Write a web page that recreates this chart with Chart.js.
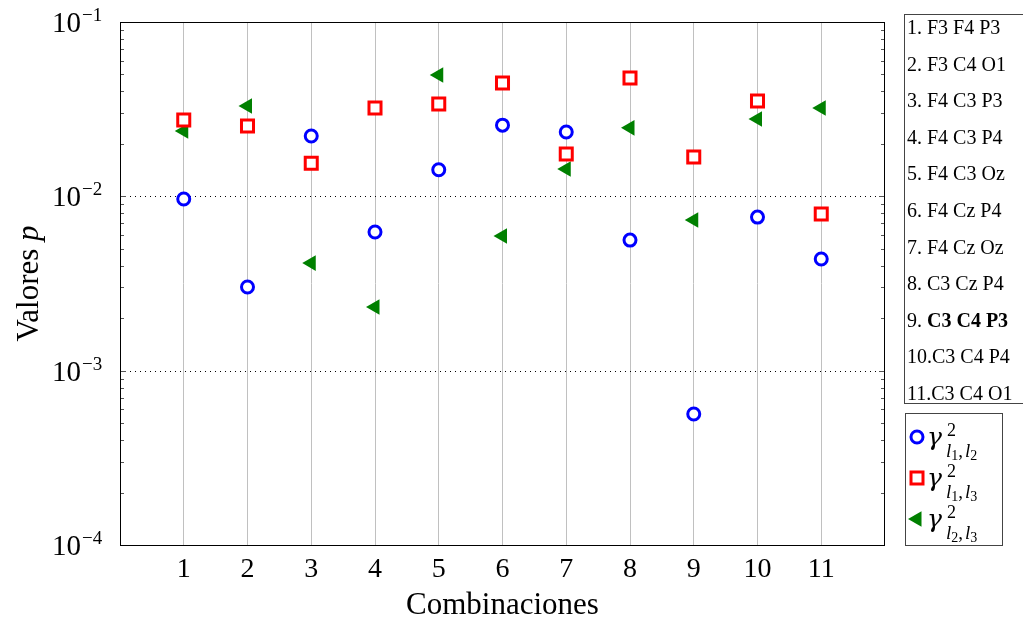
<!DOCTYPE html>
<html>
<head>
<meta charset="utf-8">
<script src="https://cdn.jsdelivr.net/npm/chart.js@4"></script>
<style>
  html, body { margin: 0; padding: 0; background: #fff; }
  #wrap { width: 1023px; height: 628px; }
</style>
</head>
<body>
<div id="wrap"><canvas id="myChart" width="1023" height="628"></canvas></div>
<script>
const categories = [1, 2, 3, 4, 5, 6, 7, 8, 9, 10, 11];
const comboLabels = ['F3 F4 P3', 'F3 C4 O1', 'F4 C3 P3', 'F4 C3 P4', 'F4 C3 Oz', 'F4 Cz P4',
  'F4 Cz Oz', 'C3 Cz P4', 'C3 C4 P3', 'C3 C4 P4', 'C3 C4 O1'];
const boldCombo = 9;
// valores p
const gamma12 = [0.00965, 0.00302, 0.0222, 0.00624, 0.0142, 0.0256, 0.0234, 0.00561, 0.000564, 0.0076, 0.00437];
const gamma13 = [0.0274, 0.0253, 0.0155, 0.0321, 0.0339, 0.0447, 0.0175, 0.0477, 0.0168, 0.0352, 0.00791];
const gamma23 = [0.0237, 0.033, 0.00414, 0.00232, 0.0497, 0.00592, 0.01435, 0.0247, 0.00731, 0.0278, 0.0321];
const yTickValues = [1e-4, 1e-3, 1e-2, 1e-1];
const yTickExponents = ['\u22124', '\u22123', '\u22122', '\u22121'];
const seriesSubs = [['1', '2'], ['1', '3'], ['2', '3']];

const SERIF = '"Liberation Serif", "DejaVu Serif", serif';
const BLUE = '#0000ff', RED = '#ff0000', GREEN = '#008000';

function pts(vals) { return categories.map((c, i) => ({ x: c, y: vals[i] })); }

// dibuja un marcador como en la leyenda
function drawMarker(ctx, kind, x, y) {
  ctx.save();
  if (kind === 0) {
    ctx.beginPath(); ctx.arc(x, y, 6, 0, Math.PI * 2);
    ctx.fillStyle = '#fff'; ctx.fill();
    ctx.lineWidth = 3; ctx.strokeStyle = BLUE; ctx.stroke();
  } else if (kind === 1) {
    ctx.fillStyle = '#fff'; ctx.fillRect(x - 6, y - 6, 12, 12);
    ctx.lineWidth = 3; ctx.strokeStyle = RED; ctx.strokeRect(x - 6, y - 6, 12, 12);
  } else {
    const r = 9;
    ctx.beginPath();
    for (let k = 0; k < 3; k++) {
      const a = -Math.PI / 2 + k * 2 * Math.PI / 3;
      const px = x + Math.sin(a) * r, py = y - Math.cos(a) * r;
      k ? ctx.lineTo(px, py) : ctx.moveTo(px, py);
    }
    ctx.closePath(); ctx.fillStyle = GREEN; ctx.fill();
  }
  ctx.restore();
}

const extras = {
  id: 'extras',
  beforeDatasetsDraw(chart) {
    const { ctx, chartArea: a, scales: { y } } = chart;
    ctx.save();
    // lineas punteadas en decadas interiores
    ctx.strokeStyle = '#000'; ctx.lineWidth = 1; ctx.setLineDash([1, 4]);
    [1e-3, 1e-2].forEach(v => {
      const py = Math.round(y.getPixelForValue(v)) + 0.5;
      ctx.beginPath(); ctx.moveTo(a.left, py); ctx.lineTo(a.right, py); ctx.stroke();
    });
    ctx.setLineDash([]);
    // marcas menores y mayores en ambos lados
    ctx.strokeStyle = '#555';
    for (let e = -4; e <= -1; e++) {
      for (let m = 1; m <= 9; m++) {
        const v = m * Math.pow(10, e);
        if (v > 0.1 + 1e-12) break;
        const py = Math.round(y.getPixelForValue(v)) + 0.5;
        const len = m === 1 ? 6 : 4;
        ctx.beginPath();
        ctx.moveTo(a.left, py); ctx.lineTo(a.left + len, py);
        ctx.moveTo(a.right, py); ctx.lineTo(a.right - len, py);
        ctx.stroke();
      }
    }
    ctx.restore();
  },
  afterDraw(chart) {
    const { ctx, chartArea: a, scales: { y } } = chart;
    ctx.save();
    // marco
    ctx.strokeStyle = '#000'; ctx.lineWidth = 1;
    ctx.strokeRect(a.left + 0.5, a.top + 0.5, a.right - a.left - 1, a.bottom - a.top);
    // etiquetas del eje y
    ctx.fillStyle = '#000'; ctx.textBaseline = 'alphabetic';
    yTickValues.forEach((v, i) => {
      const py = y.getPixelForValue(v);
      ctx.font = '29px ' + SERIF; ctx.textAlign = 'right';
      ctx.fillText('10', 81, py + 10);
      ctx.font = '19px ' + SERIF; ctx.textAlign = 'left';
      ctx.fillText(yTickExponents[i], 82, py - 1);
    });
    // titulo del eje y
    ctx.save();
    ctx.translate(38, (a.top + a.bottom) / 2);
    ctx.rotate(-Math.PI / 2);
    ctx.font = '31px ' + SERIF;
    const w1 = ctx.measureText('Valores ').width;
    ctx.font = 'italic 31px ' + SERIF;
    const w2 = ctx.measureText('p').width;
    ctx.textAlign = 'left';
    ctx.font = '31px ' + SERIF;
    ctx.fillText('Valores ', -(w1 + w2) / 2, 0);
    ctx.font = 'italic 31px ' + SERIF;
    ctx.fillText('p', -(w1 + w2) / 2 + w1, 0);
    ctx.restore();
    // lista de combinaciones
    ctx.strokeStyle = '#444';
    ctx.strokeRect(904.5, 14.5, 130, 389);
    ctx.textAlign = 'left';
    comboLabels.forEach((t, i) => {
      const by = 34 + i * 36.6;
      const n = (i + 1) + '.';
      const pre = i + 1 >= 10 ? n : n + ' ';
      ctx.font = '20px ' + SERIF;
      ctx.fillText(pre, 907, by);
      const w = ctx.measureText(pre).width;
      ctx.font = (i + 1 === boldCombo ? 'bold ' : '') + '20px ' + SERIF;
      ctx.fillText(t, 907 + w, by);
    });
    // leyenda
    ctx.strokeRect(905.5, 413.5, 97, 132);
    seriesSubs.forEach((s, i) => {
      const cy = 437 + i * 41;
      drawMarker(ctx, i, 917, cy);
      ctx.font = 'italic 25px "DejaVu Serif", serif';
      ctx.fillText('\u03b3', 927, cy + 8);
      ctx.font = '18px ' + SERIF;
      ctx.fillText('2', 947, cy - 1);
      let x = 946;
      const by = cy + 20;
      ctx.font = 'italic 19px ' + SERIF; ctx.fillText('l', x, by); x += ctx.measureText('l').width;
      ctx.font = '14px ' + SERIF; ctx.fillText(s[0], x, by + 3); x += ctx.measureText(s[0]).width;
      ctx.font = '19px ' + SERIF; ctx.fillText(',', x, by); x += ctx.measureText(',').width + 2;
      ctx.font = 'italic 19px ' + SERIF; ctx.fillText('l', x, by); x += ctx.measureText('l').width;
      ctx.font = '14px ' + SERIF; ctx.fillText(s[1], x, by + 3);
    });
    ctx.restore();
  }
};

const ctx = document.getElementById('myChart');
new Chart(ctx, {
  type: 'scatter',
  data: {
    datasets: [{
      label: 'g12',
      data: pts(gamma12),
      pointStyle: 'circle',
      pointRadius: 6,
      pointBorderWidth: 3,
      borderColor: BLUE,
      backgroundColor: '#fff'
    }, {
      label: 'g13',
      data: pts(gamma13),
      pointStyle: 'rect',
      pointRadius: 8.5,
      pointBorderWidth: 3,
      borderColor: RED,
      backgroundColor: '#fff'
    }, {
      label: 'g23',
      data: pts(gamma23),
      pointStyle: 'triangle',
      pointRotation: -90,
      pointRadius: 9,
      pointBorderWidth: 0,
      borderColor: GREEN,
      backgroundColor: GREEN
    }]
  },
  options: {
    responsive: false,
    animation: false,
    layout: { padding: { top: 22, right: 138, left: 0, bottom: 0 } },
    plugins: {
      legend: { display: false },
      tooltip: { enabled: false }
    },
    scales: {
      x: {
        type: 'linear',
        min: 0,
        max: 12,
        afterBuildTicks: s => { s.ticks = categories.map(v => ({ value: v })); },
        afterFit: s => { s.height = 83; },
        grid: { color: '#c0c0c0', lineWidth: 1, drawTicks: false },
        border: { display: false },
        ticks: { color: '#000', padding: 8, font: { family: SERIF, size: 28 } },
        title: { display: true, text: 'Combinaciones', color: '#000', padding: { top: 2 },
          font: { family: SERIF, size: 31 } }
      },
      y: {
        type: 'logarithmic',
        min: 1e-4,
        max: 1e-1,
        afterBuildTicks: s => { s.ticks = yTickValues.map(v => ({ value: v })); },
        afterFit: s => { s.width = 120; },
        grid: { display: false },
        border: { display: false },
        ticks: { display: false }
      }
    }
  },
  plugins: [extras]
});
</script>
</body>
</html>
